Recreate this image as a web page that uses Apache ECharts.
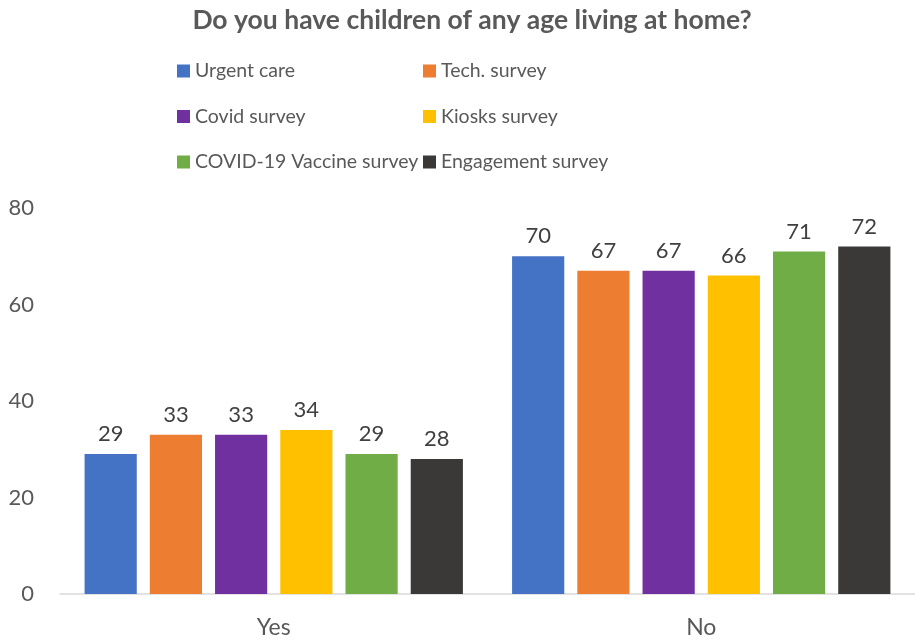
<!DOCTYPE html>
<html>
<head>
<meta charset="utf-8">
<script src="https://cdn.jsdelivr.net/npm/echarts@6/dist/echarts.min.js"></script>
<style>html,body{margin:0;padding:0;background:#fff;}#c{width:915px;height:640px;}</style>
</head>
<body>
<div id="c"></div>
<script>
const categories = ["Yes", "No"];
const seriesNames = ["Urgent care", "Tech. survey", "Covid survey", "Kiosks survey", "COVID-19 Vaccine survey", "Engagement survey"];
const urgentCare = [29, 70];
const techSurvey = [33, 67];
const covidSurvey = [33, 67];
const kiosksSurvey = [34, 66];
const vaccineSurvey = [29, 71];
const engagementSurvey = [28, 72];
const yTicks = [0, 20, 40, 60, 80];

const values = [urgentCare, techSurvey, covidSurvey, kiosksSurvey, vaccineSurvey, engagementSurvey];
const colors = ["#4472C4", "#ED7D31", "#7030A0", "#FFC000", "#70AD47", "#3A3938"];
const font = "Lato, 'Open Sans', sans-serif";

const chart = echarts.init(document.getElementById('c'));
const legendCommon = {
  orient: 'vertical',
  itemWidth: 13, itemHeight: 13, itemGap: 25.5,
  icon: 'rect',
  textStyle: { fontFamily: font, fontSize: 19.5, color: '#595959' },
  selectedMode: false
};
chart.setOption({
  animation: false,
  title: {
    text: "Do you have children of any age living at home?",
    left: 467, textAlign: 'center', top: 2,
    textStyle: { fontFamily: font, fontSize: 26.5, fontWeight: 'bold', color: '#595959' }
  },
  legend: [
    Object.assign({}, legendCommon, { left: 172, top: 56, data: [seriesNames[0], seriesNames[2], seriesNames[4]] }),
    Object.assign({}, legendCommon, { left: 418, top: 56, data: [seriesNames[1], seriesNames[3], seriesNames[5]] })
  ],
  grid: { left: 60, right: 0, top: 208, bottom: 46, containLabel: false },
  xAxis: {
    type: 'category', data: categories,
    axisLine: { lineStyle: { color: '#D9D9D9', width: 1.5 } },
    axisTick: { show: false },
    axisLabel: { fontFamily: font, fontSize: 23, color: '#595959', margin: 22 }
  },
  yAxis: {
    type: 'value', min: yTicks[0], max: yTicks[yTicks.length - 1], interval: 20,
    axisLine: { show: false }, axisTick: { show: false },
    splitLine: { show: false },
    axisLabel: { fontFamily: font, fontSize: 22, color: '#595959', margin: 26 }
  },
  series: values.map((v, i) => ({
    name: seriesNames[i], type: 'bar', data: v,
    barGap: '25%', barCategoryGap: '11.5%',
    itemStyle: { color: colors[i] },
    label: { show: true, position: 'top', distance: 9, fontFamily: font, fontSize: 22, color: '#404040' }
  }))
});
</script>
</body>
</html>
